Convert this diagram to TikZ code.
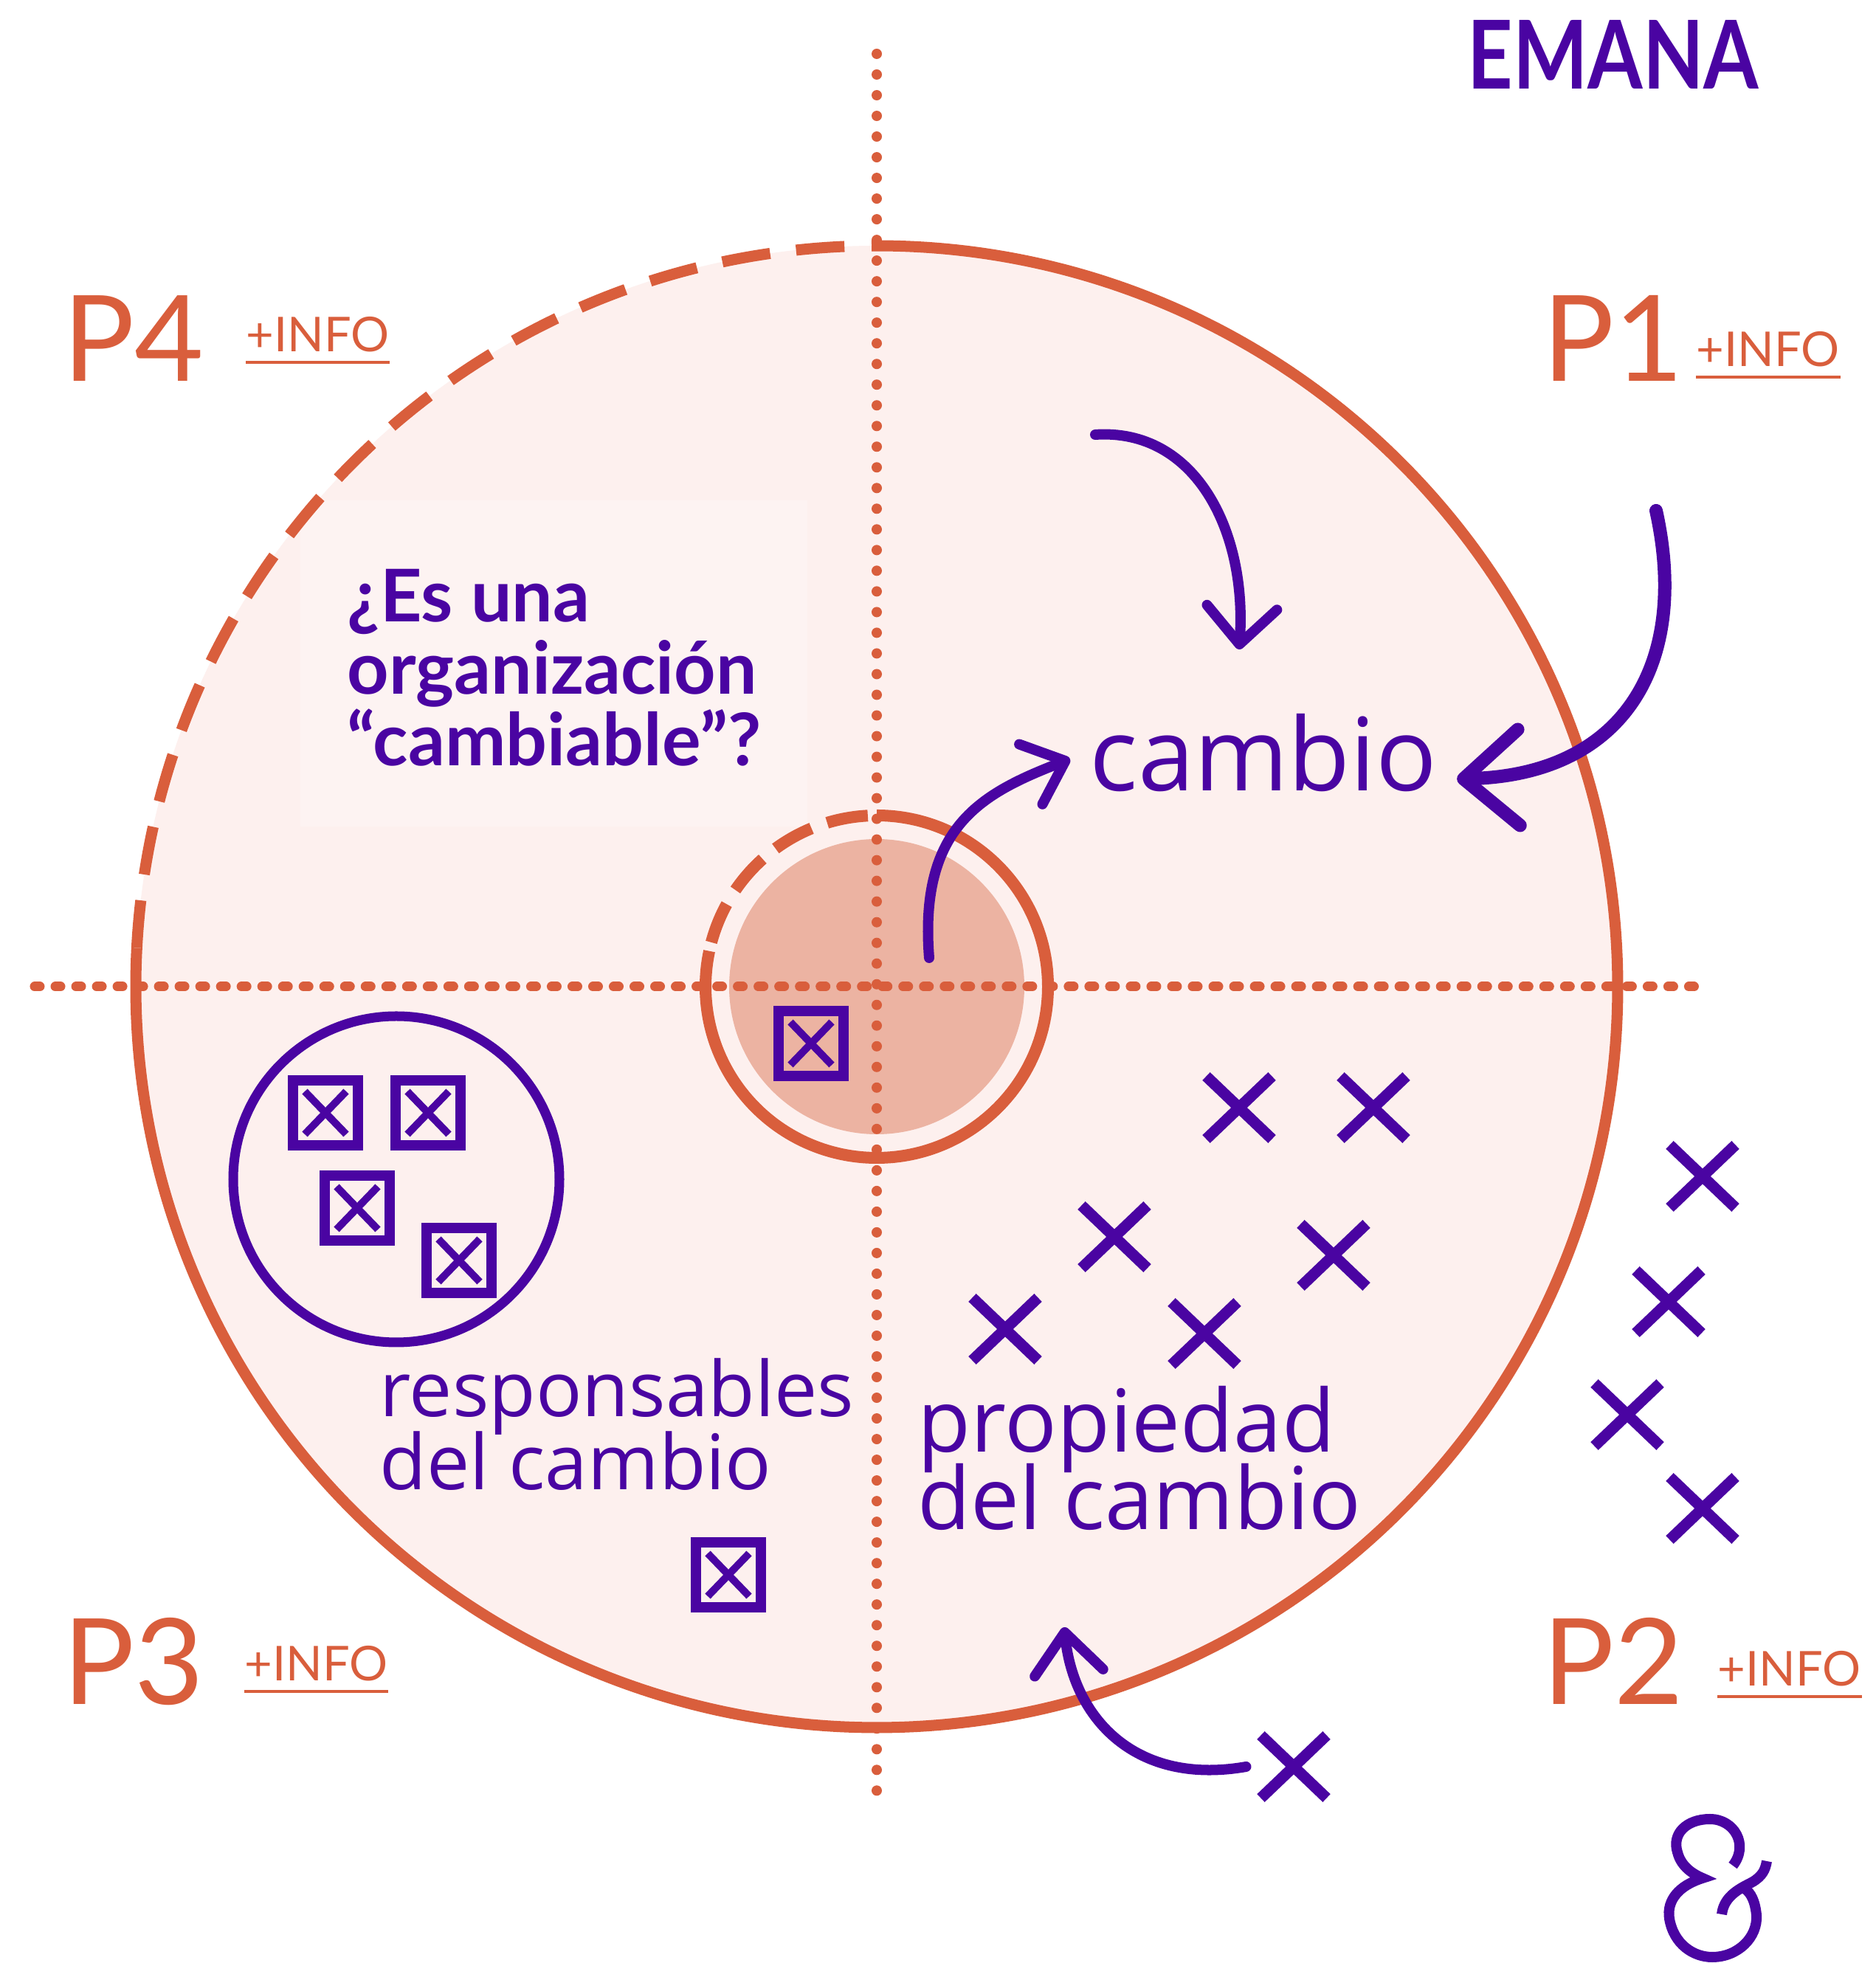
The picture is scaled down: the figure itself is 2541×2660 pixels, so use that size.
\documentclass[tikz,border=0pt]{standalone}
\usepackage{fontspec}
\setmainfont{Open Sans}
\newfontfamily\headfont{Lato}
\usetikzlibrary{arrows.meta,shapes.misc}
\definecolor{coral}{RGB}{217,94,60}
\definecolor{violeta}{RGB}{74,4,162}
\definecolor{rosado}{RGB}{253,240,238}
\definecolor{salmon}{RGB}{236,179,162}
\begin{document}
\begin{tikzpicture}[x=0.01cm,y=0.01cm]
        \tikzstyle{ring}=[draw=coral,line width=0.15cm]
        \tikzstyle{dotline}=[coral,line width=0.14cm,line cap=round,dash pattern=on 0pt off 0.28cm]
        \tikzstyle{xmark}=[draw=violeta,cross out,line width=0.15cm,minimum width=0.74cm,minimum height=0.7cm,inner sep=0pt]
        \tikzstyle{cbox}=[draw=violeta,line width=0.14cm,minimum size=0.88cm,inner sep=0pt]
        \tikzstyle{cboxx}=[draw=violeta,cross out,line width=0.1cm,minimum width=0.46cm,minimum height=0.48cm,inner sep=0pt]
        \tikzstyle{flow}=[violeta,line width=0.14cm,line cap=round,-{Straight Barb[round,length=0.5cm,width=0.95cm]}]
        \tikzstyle{ptext}=[coral,anchor=base west,inner sep=0pt,font=\headfont\fontsize{46pt}{46pt}\selectfont]
        \tikzstyle{info}=[coral,anchor=base west,inner sep=0pt,font=\headfont\fontsize{18.5pt}{18.5pt}\selectfont]
        \tikzstyle{infoline}=[coral,line width=0.04cm]
        \tikzstyle{body}=[violeta,anchor=base west,inner sep=0pt]
        \tikzstyle{question}=[body,font=\headfont\bfseries\fontsize{28pt}{28pt}\selectfont]
        \fill[white] (0,0) rectangle (2541,2660);
        \useasboundingbox (0,0) rectangle (2541,2660);
       % circles and axes
       \begin{scope}
         \coordinate (c) at (1188,1323);
         \fill[rosado] (c) circle[radius=1004];
         \fill[white,fill opacity=.25] (407,1540) rectangle (1094,1982);
         \fill[salmon] (c) circle[radius=200];
         \draw[dotline] (1188,2587) -- (1188,223);
         \draw[dotline,line width=0.13cm,dash pattern=on 0.07cm off 0.21cm] (47,1323) -- (2302,1323);
         \draw[ring] (c) ++(90.4:1004) arc[start angle=90.4,end angle=-183,radius=1004];
         \draw[ring,dash pattern=on 0.657cm off 0.354cm] (c) ++(92.5:1004) arc[start angle=92.5,end angle=177,radius=1004];
         \draw[ring,line width=0.16cm] (c) ++(90:232) arc[start angle=90,end angle=-192,radius=232];
         \draw[ring,line width=0.16cm,dash pattern=on 0.56cm off 0.225cm] (c) ++(93:232) arc[start angle=93,end angle=165,radius=232];
       \end{scope}
       % quadrant titles
       \node [violeta,anchor=base west,inner sep=0pt,font=\headfont\bfseries\fontsize{30.5pt}{30.5pt}\selectfont] (emana) at (1988,2539) {\scalebox{1}[1.2]{EMANA}};
       \node [ptext] (p4) at (85,2143) {P4};
       \node [info] (i4) at (333,2183) {+INFO};
       \node [ptext] (p1) at (2090,2143) {P1};
       \node [info] (i1) at (2298,2163) {+INFO};
       \node [ptext] (p3) at (85,350) {P3};
       \node [info] (i3) at (331,382) {+INFO};
       \node [ptext] (p2) at (2090,350) {P2};
       \node [info] (i2) at (2327,375) {+INFO};
       \foreach \i in {i1,i2,i3,i4}
         \draw[infoline] ([yshift=-0.14cm]\i.base west) -- ([yshift=-0.14cm]\i.base east);
       % texts
       \node [question] (q1) at (470,1817) {¿Es una};
       \node [question] (q2) at (470,1719) {organización};
       \node [question] (q3) at (470,1622) {“cambiable”?};
       \node [body,font=\fontsize{39pt}{39pt}\selectfont] (cambio) at (1476,1588) {cambio};
       \node [body,font=\fontsize{29.5pt}{29.5pt}\selectfont] (r1) at (514,740) {responsables};
       \node [body,font=\fontsize{29.5pt}{29.5pt}\selectfont] (r2) at (514,641) {del cambio};
       \node [body,font=\fontsize{33.4pt}{33.4pt}\selectfont] (pr1) at (1243,692) {propiedad};
       \node [body,font=\fontsize{33.4pt}{33.4pt}\selectfont] (pr2) at (1243,587) {del cambio};
       % responsables
       \draw[violeta,line width=0.13cm] (537,1062) circle[radius=221];
       \foreach \n/\x/\y in {b1/441/1152,b2/580/1152,b3/484/1023,b4/622/952,b5/987/526,b6/1099/1246} {
         \node [cbox] (\n) at (\x,\y) {};
         \node [cboxx] at (\n) {};
       }
       % propiedad
       \foreach \n/\x/\y in {x1/1679/1159,x2/1861/1159,x3/1510/984,x4/1807/959,x5/1362/859,x6/1632/853,
                             x7/2307/1066,x8/2261/896,x9/2205/743,x10/2307/616,xb/1753/266}
         \node [xmark] (\n) at (\x,\y) {};
       % arrows
       \coordinate (top) at (1484,2071);
       \coordinate (topend) at (1679,1780);
       \coordinate (side) at (2244,1968);
       \coordinate (core) at (1259,1362);
       \coordinate (rim) at (1442,455);
       \draw[flow] (top) .. controls (1620,2080) and (1690,1940) .. (topend);
       \draw[flow,line width=0.18cm,-{Straight Barb[round,length=0.75cm,width=1.3cm]}] (side) .. controls (2290,1760) and (2200,1610) .. ([xshift=0.26cm,yshift=-0.35cm]cambio.east);
       \draw[flow,-{Straight Barb[round,length=0.5cm,width=0.87cm]}] (core) .. controls (1245,1540) and (1330,1585) .. ([xshift=-0.26cm,yshift=-0.08cm]cambio.west);
       \draw[flow,-{Straight Barb[round,length=0.55cm,width=0.93cm]}] ([xshift=-0.2cm]xb.west) .. controls (1540,240) and (1455,330) .. (rim);
       % ampersand
       \draw[violeta,line width=0.14cm] (2348,132) .. controls (2370,160) and (2350,195) .. (2317,195)
         .. controls (2285,195) and (2265,175) .. (2273,150) .. controls (2278,130) and (2295,120) .. (2307,115)
         .. controls (2275,105) and (2258,85) .. (2262,60) .. controls (2268,25) and (2295,8) .. (2320,8)
         .. controls (2355,8) and (2382,35) .. (2380,65) .. controls (2378,85) and (2372,95) .. (2365,100);
       \draw[violeta,line width=0.14cm] (2333,66) .. controls (2336,92) and (2360,102) .. (2375,110)
         .. controls (2388,118) and (2392,126) .. (2394,138);
\end{tikzpicture}
\end{document}
